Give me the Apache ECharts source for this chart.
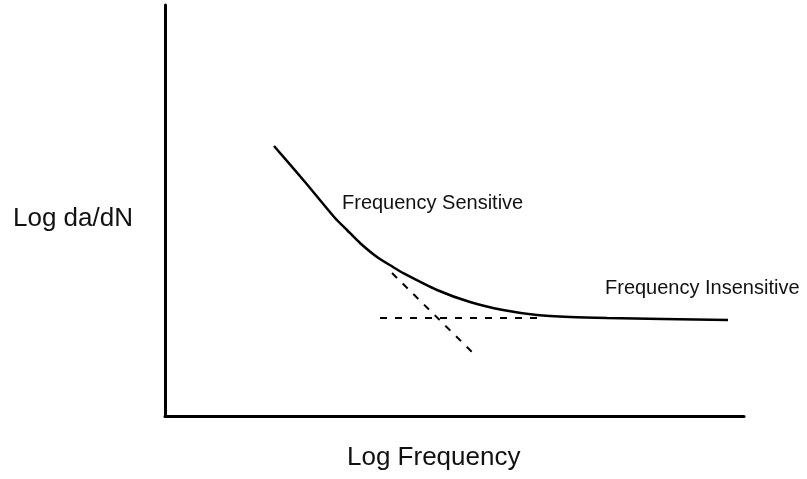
<!DOCTYPE html>
<html>
<head>
<meta charset="utf-8">
<script src="https://cdn.jsdelivr.net/npm/echarts@6/dist/echarts.min.js"></script>
<style>html,body{margin:0;padding:0;background:#fff}#c{width:807px;height:479px}</style>
</head>
<body>
<div id="c"></div>
<script>
// Schematic (arbitrary log units)
const curveX = [109, 140, 170, 182, 195, 212, 228, 238, 272, 305, 338, 372, 405, 442, 563];
const curveY = [270, 234, 198, 186, 173, 159, 149, 143, 126, 114, 106, 101, 99, 98, 96];
const flatDashX = [215, 372];
const flatDashY = [98, 98];
const slopeDashX = [227, 308];
const slopeDashY = [143, 63];
const xName = 'Log Frequency';
const yName = 'Log da/dN';
const label1 = 'Frequency Sensitive';
const label2 = 'Frequency Insensitive';

const zip = (a, b) => a.map((v, i) => [v, b[i]]);
const chart = echarts.init(document.getElementById('c'), null, {renderer: 'canvas'});
const font = '"Liberation Sans", Arial, sans-serif';
chart.setOption({
  animation: false,
  backgroundColor: '#fff',
  grid: {left: 165, right: 63, top: 5, bottom: 63},
  xAxis: {type: 'value', min: 0, max: 579,
    axisLine: {show: true, lineStyle: {color: '#000', width: 3}},
    axisTick: {show: false}, axisLabel: {show: false}, splitLine: {show: false}},
  yAxis: {type: 'value', min: 0, max: 411,
    axisLine: {show: true, lineStyle: {color: '#000', width: 3}},
    axisTick: {show: false}, axisLabel: {show: false}, splitLine: {show: false}},
  series: [
    {type: 'line', data: zip(curveX, curveY), smooth: 0.25, showSymbol: false,
     lineStyle: {color: '#000', width: 2.5}},
    {type: 'line', data: zip(flatDashX, flatDashY), showSymbol: false,
     lineStyle: {color: '#000', width: 2, type: [7, 8]}},
    {type: 'line', data: zip(slopeDashX, slopeDashY), showSymbol: false,
     lineStyle: {color: '#000', width: 2, type: [7, 8]}}
  ],
  graphic: [
    {type: 'text', style: {text: yName, x: 13, y: 219, font: '26px ' + font, fill: '#111', textAlign: 'left', textVerticalAlign: 'middle'}},
    {type: 'text', style: {text: xName, x: 347, y: 458, font: '26px ' + font, fill: '#111', textAlign: 'left', textVerticalAlign: 'middle'}},
    {type: 'text', style: {text: label1, x: 342, y: 203, font: '20px ' + font, fill: '#111', textAlign: 'left', textVerticalAlign: 'middle'}},
    {type: 'text', style: {text: label2, x: 605, y: 288, font: '20px ' + font, fill: '#111', textAlign: 'left', textVerticalAlign: 'middle'}}
  ]
});
</script>
</body>
</html>
